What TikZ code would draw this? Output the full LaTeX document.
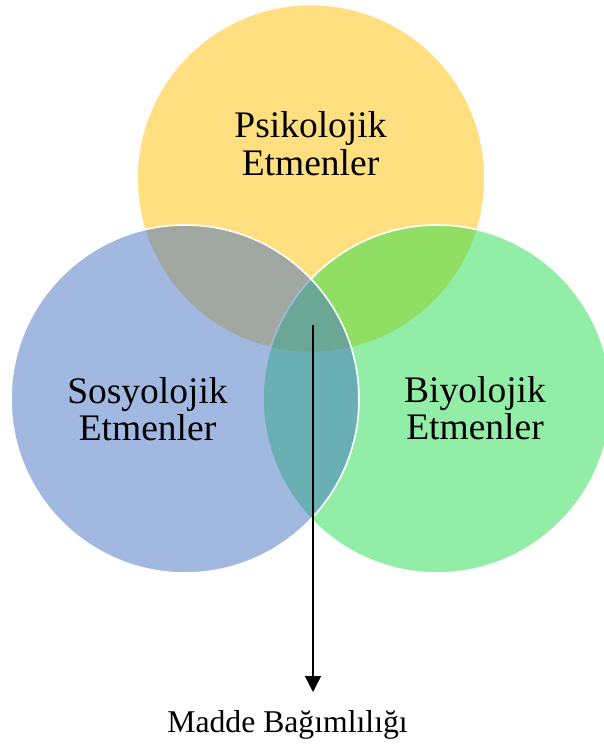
\documentclass[tikz,border=0pt]{standalone}
\usepackage{fontspec}
\setmainfont{Liberation Serif}
\usetikzlibrary{arrows.meta}
\definecolor{cy}{HTML}{FFC000}
\definecolor{cb}{HTML}{4472C4}
\definecolor{cg}{HTML}{25DD4D}
\begin{document}
\begin{tikzpicture}[x=1pt,y=-1pt,
  venn/.style={circle, minimum size=348pt, inner sep=0pt, draw=white, line width=1.6pt, fill opacity=0.5},
  lab/.style={font=\fontsize{37.5}{37}\selectfont, align=center, inner sep=0pt},
  small/.style={font=\fontsize{31.7}{36}\selectfont, inner sep=0pt}]
\useasboundingbox (0,0) rectangle (603,749);
\node[venn, fill=cy] (cps) at (311,178.5) {};
\node[venn, fill=cg] (cbi) at (437,399) {};
\node[venn, fill=cb] (cso) at (185,399) {};
\node[lab, anchor=base] (tps) at (310.5,175) {Psikolojik\\Etmenler};
\node[lab, anchor=base] (tso) at (147.5,440) {Sosyolojik\\Etmenler};
\node[lab, anchor=base] (tbi) at (475,439) {Biyolojik\\Etmenler};
\node[small, anchor=base] (tmb) at (287.5,732) {Madde Bağımlılığı};
\coordinate (s) at (313,325);
\coordinate (e) at (313,692);
\draw[line width=1.4pt, -{Triangle[width=16pt,length=16pt]}] (s) -- (e);
\end{tikzpicture}
\end{document}
